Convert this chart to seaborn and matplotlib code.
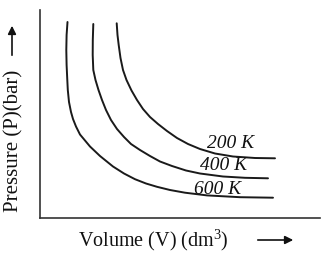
import numpy as np
import pandas as pd
import matplotlib
matplotlib.use("Agg")
import matplotlib.pyplot as plt
import seaborn as sns

# Data (arbitrary units)
v_600 = [27.5, 26.6, 26.3, 26.6, 27.3, 27.8, 29, 31, 33, 36, 40, 50, 60, 73, 84, 95,
         106, 117, 130, 145, 167, 200, 233]
p_600 = [196, 183, 168, 153, 138, 128, 116, 106, 99, 91.5, 83.5, 71.5, 62, 51.5, 44.5, 38.8,
         34.5, 31.2, 28, 25.3, 22.6, 20.8, 20.3]
v_400 = [53.3, 52.8, 52.7, 53.3, 55.5, 58.5, 62, 66, 71, 77, 84, 91, 100, 110, 120, 132,
         146, 160, 183, 205, 228]
p_400 = [194, 178, 163, 148, 138, 128, 118, 108, 98, 89, 81, 74, 68, 62, 56.5, 52,
         47.5, 44.5, 41.5, 40.2, 39.7]
v_200 = [76.7, 77.5, 78.7, 80.5, 83, 86.5, 91.5, 97, 103, 110, 118, 127, 137, 148, 160,
         175, 193, 215, 235]
p_200 = [194.7, 183, 173, 160, 148, 138, 127.5, 118, 109, 101, 94, 87, 80, 74, 69,
         64.5, 61.5, 60, 59.7]
labels = ["200 K", "400 K", "600 K"]
label_pos = [(191, 75), (184, 52), (178, 28)]

frames = []
for lab, v, p in [("600 K", v_600, p_600), ("400 K", v_400, p_400), ("200 K", v_200, p_200)]:
    frames.append(pd.DataFrame({"V": v, "P": p, "T": lab}))
df = pd.concat(frames, ignore_index=True)

sns.set_style("white")
plt.rcParams["font.family"] = ["Liberation Serif", "DejaVu Serif"]
plt.rcParams["mathtext.fontset"] = "custom"
plt.rcParams["mathtext.rm"] = "Liberation Serif"
plt.rcParams["mathtext.it"] = "Liberation Serif:italic"

W, H = 326, 257
fig = plt.figure(figsize=(W / 100, H / 100), dpi=100)
ax = fig.add_axes([40 / W, 1 - 218 / H, 280 / W, 208 / H])

sns.lineplot(data=df, x="V", y="P", hue="T",
             palette={"600 K": "#1a1a1a", "400 K": "#1a1a1a", "200 K": "#1a1a1a"},
             sort=False, estimator=None, linewidth=1.4, legend=False, ax=ax)

ax.set_xlim(0, 280)
ax.set_ylim(0, 208)
ax.set_xticks([])
ax.set_yticks([])
ax.set_xlabel("")
ax.set_ylabel("")
for s in ["top", "right"]:
    ax.spines[s].set_visible(False)
for s in ["left", "bottom"]:
    ax.spines[s].set_color("#333333")
    ax.spines[s].set_linewidth(1.2)

for lab, (x, y) in zip(labels, label_pos):
    ax.text(x, y, lab, fontsize=14, style="italic", ha="center", va="center", color="#111111")

def fx(x):
    return x / W

def fy(y):
    return 1 - y / H

fig.text(fx(153), fy(240), r"Volume (V) (dm$^\mathregular{3}$)", fontsize=14.5,
         ha="center", va="center", color="#111111")
fig.text(fx(14), fy(141), "Pressure (P)(bar)", fontsize=15, ha="center", va="center",
         rotation=90, color="#111111")

ax.annotate("", xy=(fx(296), fy(240)), xytext=(fx(255), fy(240)),
            xycoords="figure fraction", textcoords="figure fraction",
            arrowprops=dict(arrowstyle="-|>", color="#111111", lw=1.2, mutation_scale=12))
ax.annotate("", xy=(fx(12), fy(23)), xytext=(fx(12), fy(58)),
            xycoords="figure fraction", textcoords="figure fraction",
            arrowprops=dict(arrowstyle="-|>", color="#111111", lw=1.2, mutation_scale=12))

fig.savefig("out.png", dpi=100)
